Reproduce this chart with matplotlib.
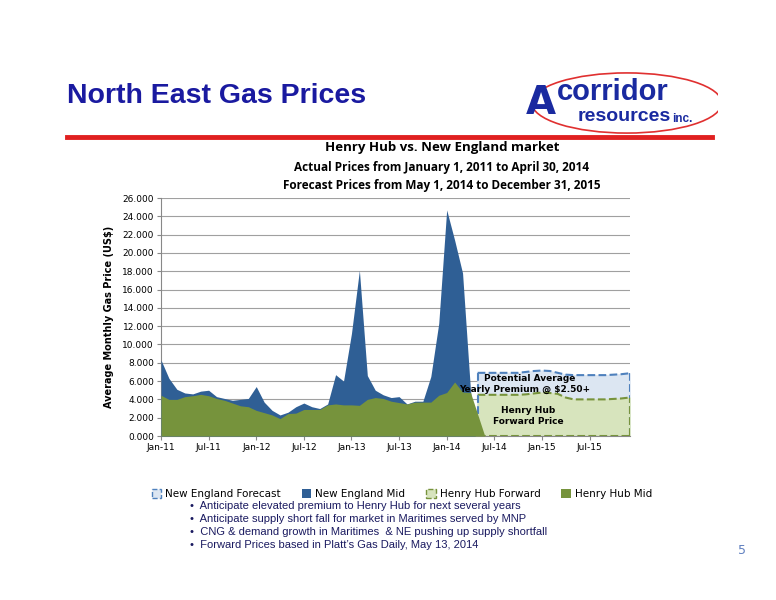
import matplotlib
matplotlib.use("Agg")
import matplotlib.pyplot as plt
from matplotlib.patches import Ellipse, Patch
import numpy as np

months_ticks = ["Jan-11","Jul-11","Jan-12","Jul-12","Jan-13","Jul-13","Jan-14","Jul-14","Jan-15","Jul-15"]
ne_mid = [8.3,6.3,5.1,4.7,4.6,4.9,5.0,4.3,4.1,3.9,4.0,4.1,5.4,3.7,2.8,2.3,2.6,3.2,3.6,3.2,3.0,3.5,6.7,6.0,
          11.2,18.1,6.6,5.0,4.5,4.2,4.3,3.5,3.8,3.8,6.5,12.3,24.7,21.4,17.8,5.0]
hh_mid = [4.45,4.0,4.0,4.3,4.4,4.55,4.4,4.1,3.9,3.6,3.3,3.2,2.8,2.55,2.3,1.9,2.45,2.5,2.9,2.9,2.9,3.4,3.5,3.4,
          3.4,3.35,4.0,4.2,4.1,3.8,3.65,3.5,3.7,3.7,3.7,4.45,4.75,5.9,4.8,4.75]
hh_fwd = [4.5,4.5,4.5,4.5,4.5,4.5,4.55,4.65,4.75,4.7,4.6,4.2,4.0,4.0,4.0,4.0,4.0,4.05,4.1,4.2]
ne_fcst = [6.9,6.9,6.9,6.9,6.9,6.9,7.0,7.1,7.15,7.1,6.9,6.7,6.65,6.65,6.65,6.65,6.65,6.7,6.75,6.85]

W, H = 776, 600
fig = plt.figure(figsize=(7.76, 6.0), dpi=100)
fig.patch.set_facecolor("white")

def fx(px): return px / W
def fy(py): return 1 - py / H

fig.text(fx(67), fy(96), "North East Gas Prices", fontsize=20.5, fontweight="bold",
         color="#1a1aa0", family="Liberation Sans", va="center")
fig.add_artist(plt.Line2D([fx(67), fx(712)], [fy(137), fy(137)], color="#e02020", lw=3.5))

# Logo
lax = fig.add_axes([fx(528), fy(134), fx(190), fy(72) - fy(134)])
lax.set_xlim(0, 1); lax.set_ylim(0, 1); lax.axis("off")
lax.add_patch(Ellipse((0.52, 0.5), 1.0, 0.97, fill=False, ec="#e03030", lw=1.2))
lax.text(0.07, 0.5, "A", fontsize=28, color="#1a2aa0", va="center", ha="center", fontweight="bold")
lax.text(0.15, 0.67, "corridor", fontsize=21, fontweight="bold", color="#1a2aa0", va="center",
         family="Liberation Sans")
lax.text(0.26, 0.28, "resources", fontsize=14, fontweight="bold", color="#1a2aa0", va="center",
         family="Liberation Sans")
lax.text(0.76, 0.25, "inc.", fontsize=8.5, fontweight="bold", color="#1a2aa0", va="center",
         family="Liberation Sans")

fig.text(fx(442), fy(148), "Henry Hub vs. New England market", fontsize=9.5, fontweight="bold",
         ha="center", va="center", family="Open Sans")
fig.text(fx(442), fy(167), "Actual Prices from January 1, 2011 to April 30, 2014", fontsize=8.5,
         fontweight="bold", ha="center", va="center", family="Open Sans")
fig.text(fx(442), fy(185), "Forecast Prices from May 1, 2014 to December 31, 2015", fontsize=8.5,
         fontweight="bold", ha="center", va="center", family="Open Sans")

ax = fig.add_axes([fx(161), fy(436), fx(630) - fx(161), fy(198) - fy(436)])
x_act = np.arange(len(ne_mid))
x_f = np.arange(40, 40 + len(hh_fwd))

xb = np.concatenate([[39.9], x_f[1:], [59.05]])
fc = np.concatenate([[ne_fcst[0]], ne_fcst[1:], [ne_fcst[-1]]])
ff = np.concatenate([[hh_fwd[0]], hh_fwd[1:], [hh_fwd[-1]]])
ax.fill_between(xb, 0, fc, color="#dce6f2", zorder=1)
ax.fill_between(xb, 0, ff, color="#d7e4bd", zorder=2)
ax.plot(xb, fc, ls="--", color="#4f81bd", lw=1.5, zorder=3)
ax.plot(xb, ff, ls="--", color="#77933c", lw=1.5, zorder=3)
ax.plot([39.9, 39.9], [0, fc[0]], ls="--", color="#4f81bd", lw=1.5, zorder=3)
ax.plot([59.05, 59.05], [0, fc[-1]], ls="--", color="#4f81bd", lw=1.5, zorder=3)
ax.plot([59.05, 59.05], [0, ff[-1]], ls="--", color="#77933c", lw=1.5, zorder=3)
ax.plot([39.9, 59.05], [0.05, 0.05], ls="--", color="#77933c", lw=1.5, zorder=3)

xa = np.concatenate([x_act, [39.6]])
ax.fill_between(xa, 0, np.concatenate([ne_mid, [0]]), color="#2f5f95", zorder=4, lw=0)
xh = np.concatenate([x_act, [40.8]])
ax.fill_between(xh, 0, np.concatenate([hh_mid, [0]]), color="#76933c", zorder=5, lw=0)

ax.text(46.5, 6.3, "Potential Average", fontsize=6.5, fontweight="bold", ha="center", va="center", zorder=6)
ax.text(45.8, 5.1, "Yearly Premium @ $2.50+", fontsize=6.5, fontweight="bold", ha="center", va="center", zorder=6)
ax.text(46.3, 2.75, "Henry Hub", fontsize=6.5, fontweight="bold", ha="center", va="center", zorder=6)
ax.text(46.3, 1.55, "Forward Price", fontsize=6.5, fontweight="bold", ha="center", va="center", zorder=6)

ax.set_xlim(0, 59.1)
ax.set_ylim(0, 26)
ax.set_yticks(np.arange(0, 27, 2))
ax.set_yticklabels([f"{v:.3f}" for v in np.arange(0, 27, 2)], fontsize=6.5)
ax.set_xticks(np.arange(0, 60, 6))
ax.set_xticklabels(months_ticks, fontsize=6.5)
ax.grid(axis="y", color="#a0a0a0", lw=0.8, zorder=0)
ax.set_axisbelow(True)
for s in ["top", "right"]:
    ax.spines[s].set_visible(False)
ax.spines["left"].set_color("#888888")
ax.spines["bottom"].set_color("#888888")
ax.tick_params(length=3, color="#888888", pad=2)
ax.set_ylabel("Average Monthly Gas Price (US$)", fontsize=7, fontweight="bold", labelpad=6)

handles = [Patch(fc="#dce6f2", ec="#4f81bd", ls="--"), Patch(fc="#2f5f95"),
           Patch(fc="#d7e4bd", ec="#77933c", ls="--"), Patch(fc="#76933c")]
labels = ["New England Forecast", "New England Mid", "Henry Hub Forward", "Henry Hub Mid"]
fig.legend(handles, labels, loc="center", bbox_to_anchor=(fx(402), fy(494)), ncol=4, frameon=False,
           fontsize=7.5, handlelength=0.9, handleheight=0.9, columnspacing=2.0, handletextpad=0.4)

bullets = ["Anticipate elevated premium to Henry Hub for next several years",
           "Anticipate supply short fall for market in Maritimes served by MNP",
           "CNG & demand growth in Maritimes  & NE pushing up supply shortfall",
           "Forward Prices based in Platt\u2019s Gas Daily, May 13, 2014"]
for i, b in enumerate(bullets):
    fig.text(fx(190), fy(506 + i * 13), "\u2022  " + b, fontsize=8, va="center", family="Liberation Sans",
             color="#1a1a60")
fig.text(fx(738), fy(550), "5", fontsize=9, color="#6080c0", va="center")

fig.savefig("out.png", dpi=100)
